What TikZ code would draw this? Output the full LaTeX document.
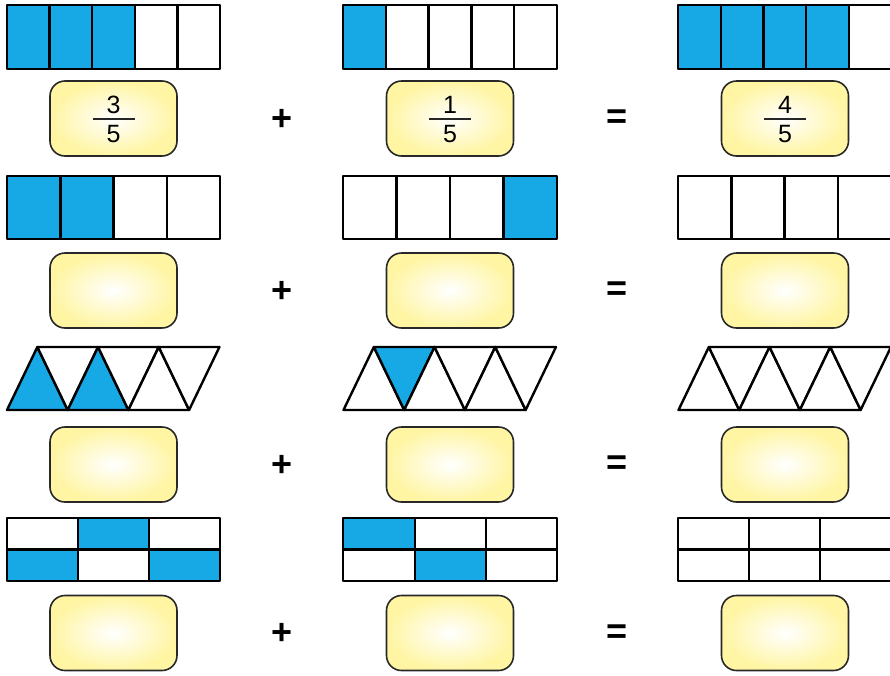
\documentclass[tikz,border=0pt]{standalone}
\usepackage{fontspec}
\setmainfont{Liberation Sans}
\definecolor{myblue}{RGB}{22,169,230}
\definecolor{boxyellow}{RGB}{255,245,162}
\definecolor{boxedge}{RGB}{40,40,40}
\tikzset{
  cell/.style={draw=black, line width=2.4pt, line join=round},
  sh/.style={fill=myblue},
  ansbox/.style={draw=boxedge, line width=1.6pt, rounded corners=15pt,
    minimum width=127pt, minimum height=75pt, inner sep=0pt,
    inner color=white, outer color=boxyellow},
  num/.style={font=\fontsize{25}{25}\selectfont, inner sep=0pt},
  op/.style={font=\bfseries\fontsize{36}{36}\selectfont, inner sep=0pt},
  fbar/.style={line width=2pt, draw=black!85}
}
\begin{document}
\begin{tikzpicture}[x=1pt,y=-1pt]
\useasboundingbox (0,0) rectangle (890,675);
\clip (0,0) rectangle (890,675);

% ---------- Row 1 : fifths ----------
\foreach \i in {0,...,4}{
  \ifnum\i<3 \draw[cell,sh] (7+\i*42.6,5) rectangle ++(42.6,64);
  \else \draw[cell,fill=white] (7+\i*42.6,5) rectangle ++(42.6,64); \fi
  \ifnum\i<1 \draw[cell,sh] (343+\i*42.8,5) rectangle ++(42.8,64);
  \else \draw[cell,fill=white] (343+\i*42.8,5) rectangle ++(42.8,64); \fi
  \ifnum\i<4 \draw[cell,sh] (678+\i*42.7,5) rectangle ++(42.7,64);
  \else \draw[cell,fill=white] (678+\i*42.7,5) rectangle ++(42.7,64); \fi
}

% ---------- Row 2 : quarters ----------
\foreach \i in {0,...,3}{
  \ifnum\i<2 \draw[cell,sh] (7+\i*53.3,176) rectangle ++(53.3,63);
  \else \draw[cell,fill=white] (7+\i*53.3,176) rectangle ++(53.3,63); \fi
  \ifnum\i=3 \draw[cell,sh] (343+\i*53.5,176) rectangle ++(53.5,63);
  \else \draw[cell,fill=white] (343+\i*53.5,176) rectangle ++(53.5,63); \fi
  \draw[cell,fill=white] (678+\i*53.3,176) rectangle ++(53.3,63);
}

% ---------- Row 3 : triangles ----------
\foreach \x/\ua/\ub/\da in {7/1/1/0, 343.5/0/0/1, 678.5/0/0/0}{
  \foreach \k in {0,1,2}{
    \pgfmathsetmacro{\xa}{\x+\k*60.7}
    % upward triangle
    \pgfmathtruncatemacro{\up}{(\k==0)*\ua + (\k==1)*\ub}
    \ifnum\up=1
      \draw[cell,sh] (\xa,410) -- (\xa+30.35,347) -- (\xa+60.7,410) -- cycle;
    \else
      \draw[cell,fill=white] (\xa,410) -- (\xa+30.35,347) -- (\xa+60.7,410) -- cycle;
    \fi
    % downward triangle
    \pgfmathtruncatemacro{\dn}{(\k==0)*\da}
    \ifnum\dn=1
      \draw[cell,sh] (\xa+30.35,347) -- (\xa+60.7,410) -- (\xa+91.05,347) -- cycle;
    \else
      \draw[cell,fill=white] (\xa+30.35,347) -- (\xa+60.7,410) -- (\xa+91.05,347) -- cycle;
    \fi
  }
}

% ---------- Row 4 : sixths ----------
% left
\draw[cell,fill=white] (7,518) rectangle (78,549.5);
\draw[cell,sh]         (78,518) rectangle (149,549.5);
\draw[cell,fill=white] (149,518) rectangle (220,549.5);
\draw[cell,sh]         (7,549.5) rectangle (78,581);
\draw[cell,fill=white] (78,549.5) rectangle (149,581);
\draw[cell,sh]         (149,549.5) rectangle (220,581);
% middle
\draw[cell,sh]         (343,518) rectangle (415,549.5);
\draw[cell,fill=white] (415,518) rectangle (486,549.5);
\draw[cell,fill=white] (486,518) rectangle (557,549.5);
\draw[cell,fill=white] (343,549.5) rectangle (415,581);
\draw[cell,sh]         (415,549.5) rectangle (486,581);
\draw[cell,fill=white] (486,549.5) rectangle (557,581);
% right
\foreach \i in {0,1,2}{
  \draw[cell,fill=white] (678+\i*71,518) rectangle ++(71,31.5);
  \draw[cell,fill=white] (678+\i*71,549.5) rectangle ++(71,31.5);
}

% ---------- Answer boxes ----------
\foreach \r/\y in {1/118.5, 2/290.5, 3/464.5, 4/633}{
  \node[ansbox] (a\r) at (113.5,\y) {};
  \node[ansbox] (b\r) at (450,\y) {};
  \node[ansbox] (c\r) at (785,\y) {};
  \node[op] (p\r) at (282,\y+1) {+};
  \node[op] (e\r) at (617,\y+1) {=};
}

% ---------- Fractions in first row ----------
\node[num] (a1n) at ([yshift=14pt]a1.center) {3};
\node[num] (a1d) at ([yshift=-15.5pt]a1.center) {5};
\draw[fbar] ([xshift=-21pt,yshift=-0.5pt]a1.center) -- ([xshift=21pt,yshift=-0.5pt]a1.center);

\node[num] (b1n) at ([yshift=14pt]b1.center) {1};
\node[num] (b1d) at ([yshift=-15.5pt]b1.center) {5};
\draw[fbar] ([xshift=-21pt,yshift=-0.5pt]b1.center) -- ([xshift=21pt,yshift=-0.5pt]b1.center);

\node[num] (c1n) at ([yshift=14pt]c1.center) {4};
\node[num] (c1d) at ([yshift=-15.5pt]c1.center) {5};
\draw[fbar] ([xshift=-21pt,yshift=-0.5pt]c1.center) -- ([xshift=21pt,yshift=-0.5pt]c1.center);
\end{tikzpicture}
\end{document}
